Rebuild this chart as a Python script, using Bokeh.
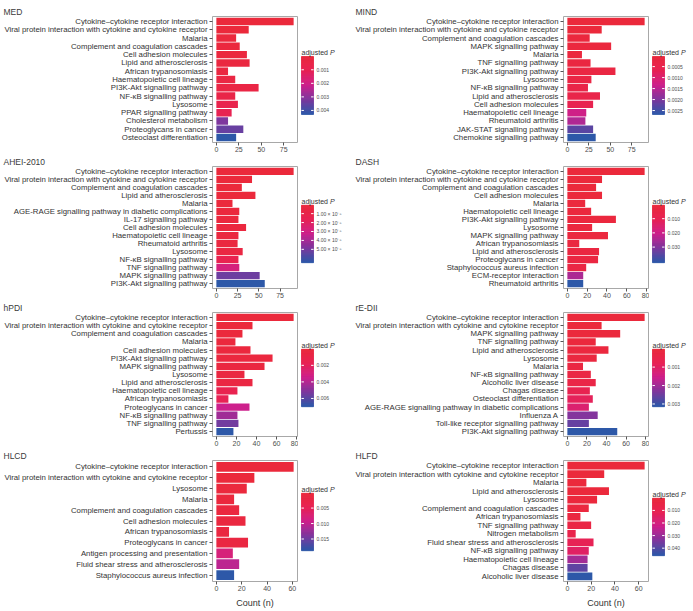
import numpy as np
from bokeh.plotting import figure
from bokeh.layouts import row, column
from bokeh.models import Range1d, FixedTicker, ColumnDataSource
from bokeh.core.properties import value
from bokeh.transform import linear_cmap
from bokeh.embed import file_html
from bokeh.resources import INLINE

# ---------------- data ----------------
CYT = "Cytokine\u2013cytokine receptor interaction"
VIR = "Viral protein interaction with cytokine and cytokine receptor"
NFKB = "NF-\u03baB signalling pathway"
STAPH = "Staphylococcus aureus infection"

med_terms = [CYT, VIR, "Malaria", "Complement and coagulation cascades", "Cell adhesion molecules",
             "Lipid and atherosclerosis", "African trypanosomiasis", "Haematopoietic cell lineage",
             "PI3K-Akt signalling pathway", NFKB, "Lysosome", "PPAR signalling pathway",
             "Cholesterol metabolism", "Proteoglycans in cancer", "Osteoclast differentiation"]
med_count = [86, 36, 22, 26, 34, 37, 13, 21, 47, 21, 24, 17, 13, 30, 22]
med_padj = [0.00002, 0.00005, 0.0001, 0.00015, 0.0002, 0.00025, 0.0003, 0.0004, 0.00045,
            0.0006, 0.0008, 0.0010, 0.0032, 0.0035, 0.0043]
med_xticks = [0, 25, 50, 75]
med_pticks = [0.001, 0.002, 0.003, 0.004]
med_plabels = ["0.001", "0.002", "0.003", "0.004"]

mind_terms = [CYT, VIR, "Complement and coagulation cascades", "MAPK signalling pathway", "Malaria",
              "TNF signalling pathway", "PI3K-Akt signalling pathway", "Lysosome", NFKB,
              "Lipid and atherosclerosis", "Cell adhesion molecules", "Haematopoietic cell lineage",
              "Rheumatoid arthritis", "JAK-STAT signalling pathway", "Chemokine signalling pathway"]
mind_count = [90, 40, 26, 51, 17, 27, 56, 28, 24, 38, 30, 22, 21, 30, 33]
mind_padj = [0.00004, 0.00006, 0.0001, 0.00012, 0.00015, 0.0002, 0.00025, 0.0003, 0.0004,
             0.00045, 0.0006, 0.0013, 0.0016, 0.0023, 0.00268]
mind_xticks = [0, 25, 50, 75]
mind_pticks = [0.0005, 0.0010, 0.0015, 0.0020, 0.0025]
mind_plabels = ["0.0005", "0.0010", "0.0015", "0.0020", "0.0025"]

ahei_terms = [CYT, VIR, "Complement and coagulation cascades", "Lipid and atherosclerosis", "Malaria",
              "AGE-RAGE signalling pathway in diabetic complications", "IL-17 signalling pathway",
              "Cell adhesion molecules", "Haematopoietic cell lineage", "Rheumatoid arthritis",
              "Lysosome", NFKB, "TNF signalling pathway", "MAPK signalling pathway",
              "PI3K-Akt signalling pathway"]
ahei_count = [91, 42, 30, 46, 19, 27, 26, 35, 26, 25, 31, 26, 27, 51, 57]
ahei_padj = [0.05e-5, 0.07e-5, 0.1e-5, 0.12e-5, 0.15e-5, 0.2e-5, 0.25e-5, 0.3e-5, 0.35e-5,
             0.4e-5, 0.6e-5, 1.4e-5, 2.8e-5, 5.2e-5, 6.5e-5]
ahei_xticks = [0, 25, 50, 75]
ahei_pticks = [1e-5, 2e-5, 3e-5, 4e-5, 5e-5]
ahei_plabels = ["1.00 \u00d7 10\u207b\u2075", "2.00 \u00d7 10\u207b\u2075", "3.00 \u00d7 10\u207b\u2075",
                "4.00 \u00d7 10\u207b\u2075", "5.00 \u00d7 10\u207b\u2075"]

dash_terms = [CYT, VIR, "Complement and coagulation cascades", "Cell adhesion molecules", "Malaria",
              "Haematopoietic cell lineage", "PI3K-Akt signalling pathway", "Lysosome",
              "MAPK signalling pathway", "African trypanosomiasis", "Lipid and atherosclerosis",
              "Proteoglycans in cancer", STAPH, "ECM-receptor interaction", "Rheumatoid arthritis"]
dash_count = [78, 35, 29, 35, 18, 24, 49, 25, 41, 12, 32, 31, 19, 16, 16]
dash_padj = [0.0005, 0.0006, 0.0008, 0.001, 0.0012, 0.0015, 0.0017, 0.002, 0.0022, 0.0025,
             0.003, 0.0035, 0.004, 0.025, 0.041]
dash_xticks = [0, 20, 40, 60, 80]
dash_pticks = [0.010, 0.020, 0.030]
dash_plabels = ["0.010", "0.020", "0.030"]

hpdi_terms = [CYT, VIR, "Complement and coagulation cascades", "Malaria", "Cell adhesion molecules",
              "PI3K-Akt signalling pathway", "MAPK signalling pathway", "Lysosome",
              "Lipid and atherosclerosis", "Haematopoietic cell lineage", "African trypanosomiasis",
              "Proteoglycans in cancer", NFKB, "TNF signalling pathway", "Pertussis"]
hpdi_count = [77, 36, 26, 19, 34, 56, 48, 28, 36, 21, 12, 33, 21, 22, 17]
hpdi_padj = [0.00005, 0.0001, 0.00015, 0.0002, 0.00025, 0.0003, 0.0004, 0.0005, 0.0006,
             0.0015, 0.0018, 0.0035, 0.0045, 0.0055, 0.007]
hpdi_xticks = [0, 20, 40, 60, 80]
hpdi_pticks = [0.002, 0.004, 0.006]
hpdi_plabels = ["0.002", "0.004", "0.006"]

edii_terms = [CYT, VIR, "MAPK signalling pathway", "TNF signalling pathway", "Lipid and atherosclerosis",
              "Lysosome", "Malaria", NFKB, "Alcoholic liver disease", "Chagas disease",
              "Osteoclast differentiation", "AGE-RAGE signalling pathway in diabetic complications",
              "Influenza A", "Toll-like receptor signalling pathway", "PI3K-Akt signalling pathway"]
edii_count = [79, 35, 54, 29, 42, 30, 16, 24, 29, 23, 26, 22, 31, 22, 51]
edii_padj = [0.00003, 0.00005, 0.00008, 0.0001, 0.00015, 0.0002, 0.00025, 0.0003, 0.0004,
             0.0007, 0.0009, 0.0012, 0.0023, 0.0026, 0.00315]
edii_xticks = [0, 20, 40, 60, 80]
edii_pticks = [0.001, 0.002, 0.003]
edii_plabels = ["0.001", "0.002", "0.003"]

hlcd_terms = [CYT, VIR, "Lysosome", "Malaria", "Complement and coagulation cascades",
              "Cell adhesion molecules", "African trypanosomiasis", "Proteoglycans in cancer",
              "Antigen processing and presentation", "Fluid shear stress and atherosclerosis", STAPH]
hlcd_count = [61, 30, 24, 14, 18, 23, 10, 25, 13, 18, 14]
hlcd_padj = [0.0002, 0.0003, 0.0005, 0.0007, 0.0009, 0.0011, 0.0013, 0.0015, 0.008, 0.0105, 0.0188]
hlcd_xticks = [0, 20, 40, 60]
hlcd_pticks = [0.005, 0.010, 0.015]
hlcd_plabels = ["0.005", "0.010", "0.015"]

hlfd_terms = [CYT, VIR, "Malaria", "Lipid and atherosclerosis", "Lysosome",
              "Complement and coagulation cascades", "African trypanosomiasis", "TNF signalling pathway",
              "Nitrogen metabolism", "Fluid shear stress and atherosclerosis", NFKB,
              "Haematopoietic cell lineage", "Chagas disease", "Alcoholic liver disease"]
hlfd_count = [65, 31, 16, 35, 25, 18, 11, 20, 7, 22, 18, 17, 17, 21]
hlfd_padj = [0.0003, 0.0005, 0.0008, 0.001, 0.0015, 0.002, 0.003, 0.005, 0.008, 0.012,
             0.015, 0.029, 0.039, 0.046]
hlfd_xticks = [0, 20, 40, 60]
hlfd_pticks = [0.010, 0.020, 0.030, 0.040]
hlfd_plabels = ["0.010", "0.020", "0.030", "0.040"]

# ---------------- style ----------------
FONT = "Liberation Sans"
ANCH_T = [0.0, 0.25, 0.5, 0.75, 1.0]
ANCH_RGB = [(235, 41, 59), (232, 34, 84), (205, 32, 140), (125, 55, 158), (45, 88, 168)]


def make_palette(n=256):
    ts = np.linspace(0, 1, n)
    ch = [np.interp(ts, ANCH_T, [c[i] for c in ANCH_RGB]) for i in range(3)]
    return ["#%02x%02x%02x" % (int(round(r)), int(round(g)), int(round(b)))
            for r, g, b in zip(*ch)]


PAL = make_palette()
CB_H = 58   # colour bar length in px
CB_W = 12   # colour bar thickness in px
CB_X = 3    # colour bar left inset


def build(title, terms, counts, padj, xticks, pticks, plabels, H, top, frame_h,
          left_border, title_dx, cb_off, cb_width, xlabel=False):
    n = len(terms)
    ys = list(range(n, 0, -1))
    xmax = max(counts)
    pmin, pmax = min(padj), max(padj)
    bottom = H - top - frame_h
    x0, x1 = -0.05 * xmax, 1.05 * xmax
    p = figure(width=left_border + 86, height=H, x_range=Range1d(x0, x1),
               y_range=Range1d(0.4, n + 0.6), output_backend="svg", toolbar_location=None,
               tools="", min_border_left=left_border, min_border_right=1,
               min_border_top=top, min_border_bottom=bottom, title=title)
    p.title.align = "left"
    p.title.offset = -(left_border - title_dx)
    p.title.standoff = 0
    p.title.text_font = FONT
    p.title.text_font_size = "8.5px"
    p.title.text_font_style = "normal"
    p.title.text_color = "#3a3a3a"
    src = ColumnDataSource(dict(y=ys, count=counts, padj=padj))
    p.hbar(y="y", left=0, right="count", height=0.9, source=src,
           fill_color=linear_cmap("padj", PAL, pmin, pmax), line_color=None)
    p.xgrid.visible = False
    p.ygrid.visible = False
    p.outline_line_color = "#a8a8a8"
    p.outline_line_width = 1
    for ax in p.axis:
        ax.axis_line_color = None
        ax.major_tick_line_color = "#555555"
        ax.major_tick_out = 3
        ax.major_tick_in = 0
        ax.minor_tick_line_color = None
        ax.major_label_text_font = FONT
    p.yaxis.major_label_standoff = 2
    p.xaxis.major_label_standoff = 1
    p.yaxis.ticker = FixedTicker(ticks=ys)
    p.yaxis.major_label_overrides = {y: t for y, t in zip(ys, terms)}
    p.yaxis.major_label_text_font_size = "7.8px"
    p.yaxis.major_label_text_color = "#333333"
    p.xaxis.ticker = FixedTicker(ticks=xticks)
    p.xaxis.major_label_text_font_size = "7px"
    p.xaxis.major_label_text_color = "#4d4d4d"
    if xlabel:
        p.xaxis.axis_label = "Count (n)"
        p.xaxis.axis_label_text_font = FONT
        p.xaxis.axis_label_text_font_size = "9px"
        p.xaxis.axis_label_text_font_style = "normal"
        p.xaxis.axis_label_text_color = "#333333"
        p.xaxis.axis_label_standoff = 4

    # colour bar: same frame as the main panel, bar drawn at a fixed pixel place
    s = (pmax - pmin) / CB_H            # data units per pixel
    y_top = pmin - cb_off * s
    y_bot = pmax + (frame_h - cb_off - CB_H) * s
    cb = figure(width=cb_width, height=H,
                x_range=Range1d(-CB_X / CB_W, (cb_width - CB_X) / CB_W),
                y_range=Range1d(y_bot, y_top), output_backend="svg", toolbar_location=None,
                tools="", min_border_left=0, min_border_right=0, min_border_top=top,
                min_border_bottom=bottom, x_axis_location=None, y_axis_location=None)
    edges = np.linspace(pmin, pmax, 121)
    mids = (edges[:-1] + edges[1:]) / 2
    cs = ColumnDataSource(dict(b=edges[:-1], t=edges[1:], v=mids))
    cmap = linear_cmap("v", PAL, pmin, pmax)
    cb.quad(left=0, right=1, bottom="b", top="t", source=cs, fill_color=cmap, line_color=cmap,
            line_width=0.6)
    cb.segment(x0=0, x1=0.2, y0=pticks, y1=pticks, line_color="white", line_width=1)
    cb.segment(x0=0.8, x1=1, y0=pticks, y1=pticks, line_color="white", line_width=1)
    cb.text(x=[1] * len(pticks), y=pticks, text=plabels, x_offset=3, text_baseline="middle",
            text_align="left", text_font=value(FONT), text_font_size=value("5px"),
            text_color="#4d4d4d")
    ty = pmin - 4 * s
    cb.text(x=[0], y=[ty], text=["adjusted "], text_baseline="alphabetic", text_align="left",
            text_font=value(FONT), text_font_size=value("7px"), text_color="#333333")
    cb.text(x=[0], y=[ty], x_offset=28.4, text=["P"], text_baseline="alphabetic", text_align="left",
            text_font=value(FONT), text_font_size=value("7px"), text_font_style="italic",
            text_color="#333333")
    cb.xgrid.visible = False
    cb.ygrid.visible = False
    cb.outline_line_color = None
    return p, cb


L = dict(left_border=212, title_dx=3, cb_width=54)
R = dict(left_border=211, title_dx=3, cb_width=44)

r1 = dict(H=154, top=16, frame_h=126)
r2 = dict(H=146, top=11, frame_h=123)
r3 = dict(H=148, top=11, frame_h=125)
r4 = dict(H=162, top=12, frame_h=122)

med = build("MED", med_terms, med_count, med_padj, med_xticks, med_pticks, med_plabels, cb_off=40, **r1, **L)
mind = build("MIND", mind_terms, mind_count, mind_padj, mind_xticks, mind_pticks, mind_plabels, cb_off=40, **r1, **R)
ahei = build("AHEI-2010", ahei_terms, ahei_count, ahei_padj, ahei_xticks, ahei_pticks, ahei_plabels, cb_off=39, **r2, **L)
dash = build("DASH", dash_terms, dash_count, dash_padj, dash_xticks, dash_pticks, dash_plabels, cb_off=39, **r2, **R)
hpdi = build("hPDI", hpdi_terms, hpdi_count, hpdi_padj, hpdi_xticks, hpdi_pticks, hpdi_plabels, cb_off=37, **r3, **L)
edii = build("rE-DII", edii_terms, edii_count, edii_padj, edii_xticks, edii_pticks, edii_plabels, cb_off=37, **r3, **R)
hlcd = build("HLCD", hlcd_terms, hlcd_count, hlcd_padj, hlcd_xticks, hlcd_pticks, hlcd_plabels, cb_off=33, xlabel=True, **r4, **L)
hlfd = build("HLFD", hlfd_terms, hlfd_count, hlfd_padj, hlfd_xticks, hlfd_pticks, hlfd_plabels, cb_off=38, xlabel=True, **r4, **R)

layout = column(row(*med, *mind), row(*ahei, *dash), row(*hpdi, *edii), row(*hlcd, *hlfd))

open("out.html", "w").write(file_html(layout, INLINE))
